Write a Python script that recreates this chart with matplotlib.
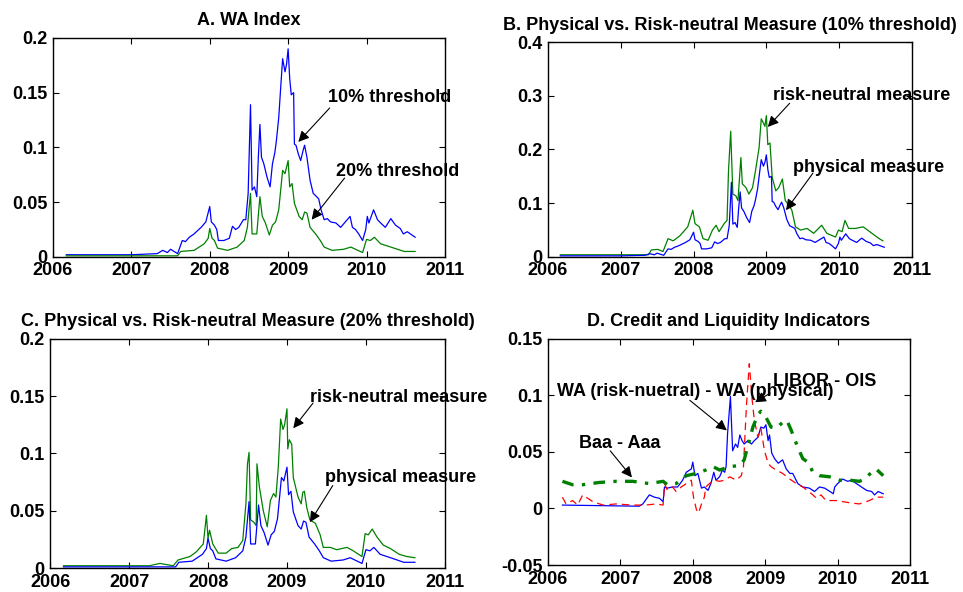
import numpy as np
import matplotlib
matplotlib.use("Agg")
import matplotlib.pyplot as plt
from matplotlib.ticker import FuncFormatter

plt.rcParams['font.family'] = ['Liberation Sans', 'DejaVu Sans']
plt.rcParams['font.weight'] = 'bold'
plt.rcParams['axes.titleweight'] = 'bold'

# --- WA index, physical measure, 10% threshold (blue in A and B) ---
wa10_t = [2006.17, 2007.00, 2007.33, 2007.40, 2007.46, 2007.50, 2007.59, 2007.65,
          2007.69, 2007.74, 2007.80, 2007.89, 2007.95, 2008.00, 2008.02, 2008.06,
          2008.09, 2008.11, 2008.18, 2008.25, 2008.29, 2008.33, 2008.37, 2008.43,
          2008.46, 2008.49, 2008.52, 2008.54, 2008.57, 2008.60, 2008.62, 2008.64,
          2008.66, 2008.69, 2008.73, 2008.77, 2008.80, 2008.83, 2008.85, 2008.88,
          2008.91, 2008.93, 2008.96, 2008.98, 2009.00, 2009.02, 2009.04, 2009.07,
          2009.08, 2009.10, 2009.13, 2009.16, 2009.19, 2009.21, 2009.24, 2009.28,
          2009.32, 2009.35, 2009.39, 2009.42, 2009.46, 2009.50, 2009.54, 2009.61,
          2009.67, 2009.73, 2009.79, 2009.82, 2009.86, 2009.90, 2009.95, 2009.99,
          2010.01, 2010.03, 2010.05, 2010.09, 2010.14, 2010.18, 2010.24, 2010.31,
          2010.37, 2010.43, 2010.47, 2010.52, 2010.56, 2010.62]
wa10_phys = [0.002, 0.002, 0.003, 0.006, 0.004, 0.007, 0.003, 0.015,
             0.014, 0.018, 0.021, 0.027, 0.032, 0.046, 0.032, 0.029,
             0.025, 0.015, 0.015, 0.017, 0.028, 0.025, 0.027, 0.034,
             0.034, 0.058, 0.139, 0.061, 0.064, 0.055, 0.091, 0.121,
             0.091, 0.085, 0.073, 0.064, 0.085, 0.095, 0.106, 0.127,
             0.160, 0.181, 0.169, 0.176, 0.190, 0.163, 0.148, 0.150,
             0.103, 0.102, 0.094, 0.088, 0.097, 0.102, 0.091, 0.070,
             0.058, 0.056, 0.053, 0.043, 0.034, 0.035, 0.032, 0.031,
             0.027, 0.032, 0.037, 0.027, 0.025, 0.021, 0.015, 0.025,
             0.037, 0.031, 0.035, 0.043, 0.034, 0.031, 0.027, 0.035,
             0.029, 0.026, 0.021, 0.023, 0.021, 0.018]

# --- WA index, physical measure, 20% threshold (green in A, blue in C) ---
wa20_t = [2006.17, 2007.25, 2007.59, 2007.63, 2007.80, 2007.93, 2007.98, 2008.00,
          2008.03, 2008.06, 2008.10, 2008.23, 2008.35, 2008.44, 2008.48, 2008.52,
          2008.54, 2008.60, 2008.64, 2008.67, 2008.71, 2008.76, 2008.80, 2008.84,
          2008.88, 2008.93, 2008.96, 2009.00, 2009.02, 2009.05, 2009.08, 2009.14,
          2009.18, 2009.21, 2009.24, 2009.28, 2009.35, 2009.41, 2009.46, 2009.56,
          2009.71, 2009.80, 2009.95, 2010.00, 2010.05, 2010.10, 2010.18, 2010.31,
          2010.48, 2010.62]
wa20_phys = [0.001, 0.001, 0.001, 0.005, 0.006, 0.012, 0.017, 0.026,
             0.017, 0.015, 0.008, 0.006, 0.009, 0.015, 0.027, 0.058,
             0.021, 0.021, 0.055, 0.037, 0.031, 0.020, 0.029, 0.032,
             0.043, 0.079, 0.076, 0.088, 0.064, 0.067, 0.049, 0.037,
             0.034, 0.041, 0.040, 0.027, 0.021, 0.015, 0.009, 0.006,
             0.007, 0.009, 0.004, 0.016, 0.015, 0.018, 0.012, 0.009,
             0.005, 0.005]

# --- risk-neutral measure, 10% threshold (green in B) ---
rn10_t = [2006.17, 2007.29, 2007.38, 2007.42, 2007.51, 2007.58, 2007.65, 2007.72,
          2007.81, 2007.92, 2007.99, 2008.02, 2008.08, 2008.13, 2008.20, 2008.26,
          2008.31, 2008.35, 2008.42, 2008.46, 2008.48, 2008.51, 2008.54, 2008.58,
          2008.61, 2008.65, 2008.67, 2008.72, 2008.76, 2008.81, 2008.85, 2008.90,
          2008.93, 2008.96, 2008.98, 2009.00, 2009.02, 2009.05, 2009.08, 2009.13,
          2009.17, 2009.22, 2009.26, 2009.31, 2009.35, 2009.40, 2009.47, 2009.56,
          2009.65, 2009.76, 2009.83, 2009.95, 2009.99, 2010.04, 2010.08, 2010.13,
          2010.22, 2010.33, 2010.42, 2010.49, 2010.55, 2010.60]
rn10 = [0.004, 0.004, 0.004, 0.013, 0.014, 0.010, 0.034, 0.030,
        0.039, 0.056, 0.087, 0.062, 0.056, 0.034, 0.031, 0.050,
        0.059, 0.047, 0.062, 0.068, 0.160, 0.234, 0.117, 0.114,
        0.105, 0.185, 0.136, 0.129, 0.117, 0.129, 0.160, 0.203,
        0.257, 0.249, 0.243, 0.263, 0.209, 0.212, 0.148, 0.123,
        0.129, 0.145, 0.105, 0.096, 0.087, 0.056, 0.050, 0.053,
        0.044, 0.059, 0.044, 0.037, 0.050, 0.047, 0.068, 0.053,
        0.053, 0.056, 0.047, 0.040, 0.034, 0.030]

# --- risk-neutral measure, 20% threshold (green in C) ---
rn20_t = [2006.17, 2007.26, 2007.39, 2007.56, 2007.62, 2007.77, 2007.85, 2007.94,
          2007.98, 2008.00, 2008.02, 2008.06, 2008.13, 2008.23, 2008.30, 2008.38,
          2008.44, 2008.48, 2008.50, 2008.52, 2008.54, 2008.58, 2008.61, 2008.62,
          2008.65, 2008.70, 2008.75, 2008.79, 2008.83, 2008.86, 2008.89, 2008.92,
          2008.95, 2008.97, 2009.00, 2009.01, 2009.03, 2009.06, 2009.08, 2009.14,
          2009.18, 2009.20, 2009.22, 2009.25, 2009.29, 2009.36, 2009.42, 2009.46,
          2009.55, 2009.63, 2009.76, 2009.84, 2009.95, 2009.99, 2010.03, 2010.08,
          2010.14, 2010.22, 2010.31, 2010.42, 2010.52, 2010.62]
rn20 = [0.002, 0.002, 0.004, 0.002, 0.007, 0.010, 0.014, 0.021,
        0.046, 0.026, 0.033, 0.021, 0.013, 0.013, 0.017, 0.018,
        0.024, 0.056, 0.091, 0.101, 0.042, 0.040, 0.037, 0.091,
        0.071, 0.050, 0.036, 0.059, 0.065, 0.062, 0.088, 0.130,
        0.121, 0.125, 0.139, 0.104, 0.112, 0.108, 0.079, 0.062,
        0.056, 0.066, 0.067, 0.053, 0.042, 0.039, 0.029, 0.018,
        0.018, 0.016, 0.018, 0.015, 0.010, 0.030, 0.029, 0.034,
        0.027, 0.020, 0.017, 0.012, 0.010, 0.009]

# --- panel D: spread, LIBOR-OIS, Baa-Aaa ---
spread_t = [2006.20, 2007.26, 2007.31, 2007.40, 2007.47, 2007.54, 2007.59, 2007.61,
            2007.65, 2007.72, 2007.79, 2007.86, 2007.91, 2007.98, 2008.00, 2008.03,
            2008.07, 2008.12, 2008.16, 2008.21, 2008.25, 2008.29, 2008.32, 2008.37,
            2008.41, 2008.44, 2008.46, 2008.48, 2008.52, 2008.55, 2008.59, 2008.62,
            2008.65, 2008.68, 2008.71, 2008.76, 2008.81, 2008.85, 2008.90, 2008.94,
            2008.98, 2009.01, 2009.04, 2009.06, 2009.09, 2009.13, 2009.18, 2009.24,
            2009.29, 2009.34, 2009.38, 2009.45, 2009.52, 2009.61, 2009.68, 2009.75,
            2009.82, 2009.87, 2009.94, 2009.96, 2010.00, 2010.07, 2010.14, 2010.19,
            2010.26, 2010.33, 2010.40, 2010.47, 2010.51, 2010.56, 2010.63]
wa_spread = [0.003, 0.002, 0.004, 0.012, 0.010, 0.009, 0.006, 0.019,
             0.018, 0.019, 0.019, 0.025, 0.032, 0.035, 0.041, 0.029,
             0.031, 0.018, 0.019, 0.016, 0.022, 0.032, 0.025, 0.028,
             0.034, 0.032, 0.037, 0.066, 0.099, 0.051, 0.057, 0.054,
             0.065, 0.060, 0.057, 0.060, 0.057, 0.060, 0.063, 0.072,
             0.071, 0.074, 0.060, 0.065, 0.049, 0.044, 0.040, 0.043,
             0.035, 0.031, 0.031, 0.022, 0.019, 0.018, 0.015, 0.019,
             0.018, 0.016, 0.013, 0.019, 0.022, 0.026, 0.024, 0.025,
             0.022, 0.019, 0.016, 0.015, 0.012, 0.015, 0.013]

libor_t = [2006.20, 2006.25, 2006.34, 2006.41, 2006.48, 2006.62, 2006.76, 2006.94,
           2007.17, 2007.35, 2007.49, 2007.59, 2007.61, 2007.65, 2007.72, 2007.77,
           2007.84, 2007.91, 2007.98, 2008.01, 2008.05, 2008.08, 2008.12, 2008.16,
           2008.18, 2008.23, 2008.30, 2008.37, 2008.44, 2008.51, 2008.60, 2008.67,
           2008.70, 2008.74, 2008.78, 2008.82, 2008.85, 2008.90, 2008.94, 2008.99,
           2009.04, 2009.08, 2009.15, 2009.24, 2009.34, 2009.43, 2009.52, 2009.64,
           2009.71, 2009.77, 2009.84, 2009.98, 2010.17, 2010.30, 2010.44, 2010.53,
           2010.63]
libor_ois = [0.010, 0.004, 0.007, 0.003, 0.012, 0.006, 0.003, 0.004,
             0.003, 0.003, 0.004, 0.003, 0.022, 0.016, 0.019, 0.015,
             0.019, 0.022, 0.025, 0.010, -0.001, -0.004, 0.004, 0.010,
             0.019, 0.022, 0.025, 0.024, 0.025, 0.028, 0.025, 0.029,
             0.037, 0.090, 0.128, 0.096, 0.078, 0.063, 0.071, 0.051,
             0.040, 0.037, 0.034, 0.031, 0.026, 0.022, 0.019, 0.013,
             0.009, 0.012, 0.007, 0.007, 0.005, 0.004, 0.007, 0.010,
             0.010]

baa_t = [2006.20, 2006.34, 2006.48, 2006.71, 2006.94, 2007.17, 2007.40, 2007.59,
         2007.65, 2007.77, 2007.91, 2008.05, 2008.18, 2008.28, 2008.37, 2008.51,
         2008.65, 2008.71, 2008.78, 2008.83, 2008.90, 2008.94, 2009.00, 2009.08,
         2009.15, 2009.24, 2009.30, 2009.36, 2009.45, 2009.52, 2009.59, 2009.66,
         2009.75, 2009.89, 2010.03, 2010.17, 2010.30, 2010.37, 2010.47, 2010.53,
         2010.58, 2010.63]
baa_aaa = [0.024, 0.021, 0.021, 0.023, 0.024, 0.024, 0.022, 0.024,
           0.021, 0.022, 0.029, 0.031, 0.034, 0.037, 0.034, 0.037,
           0.038, 0.043, 0.060, 0.072, 0.083, 0.086, 0.082, 0.072,
           0.071, 0.076, 0.078, 0.069, 0.054, 0.044, 0.041, 0.032,
           0.029, 0.028, 0.025, 0.025, 0.024, 0.026, 0.032, 0.035,
           0.032, 0.029]

years = [2006, 2007, 2008, 2009, 2010, 2011]

BLUE = (0, 0, 1)
GREEN = (0, 0.5, 0)
RED = (1, 0, 0)
FS = 13


def style_axes(ax, title, ylim, yticks):
    """MATLAB-like boxed axes"""
    ax.set_xlim(2006, 2011)
    ax.set_xticks(years)
    ax.set_ylim(*ylim)
    ax.set_yticks(yticks)
    ax.yaxis.set_major_formatter(FuncFormatter(lambda v, p: '%g' % round(v, 4)))
    ax.tick_params(direction='in', top=True, right=True, length=4, width=0.8,
                   labelsize=FS, pad=4)
    for s in ax.spines.values():
        s.set_linewidth(1.0)
    ax.set_title(title, fontsize=FS, fontweight='bold', pad=9)


def note(ax, label, txt_xy, tail, head):
    # label text plus a separate arrow, like the MATLAB annotations
    ax.text(txt_xy[0], txt_xy[1], label, fontsize=FS, fontweight='bold',
            va='center', ha='left', clip_on=False)
    ax.annotate('', xy=head, xytext=tail,
                arrowprops=dict(arrowstyle='-|>', color='black', lw=0.8,
                                mutation_scale=16, shrinkA=0, shrinkB=0))


fig = plt.figure(figsize=(9.63, 5.92), dpi=100)

# A. WA Index
axA = fig.add_axes([0.055, 0.566, 0.407, 0.370])
axA.plot(wa10_t, wa10_phys, color=BLUE, lw=0.9)
axA.plot(wa20_t, wa20_phys, color=GREEN, lw=0.9)
style_axes(axA, 'A. WA Index', (0, 0.2), [0, 0.05, 0.1, 0.15, 0.2])
note(axA, '10% threshold', (2009.51, 0.146), (2009.53, 0.136), (2009.13, 0.105))
note(axA, '20% threshold', (2009.61, 0.078), (2009.72, 0.072), (2009.30, 0.034))

# B. 10% threshold
axB = fig.add_axes([0.569, 0.566, 0.378, 0.363])
axB.plot(rn10_t, rn10, color=GREEN, lw=0.9)
axB.plot(wa10_t, wa10_phys, color=BLUE, lw=0.9)
style_axes(axB, 'B. Physical vs. Risk-neutral Measure (10% threshold)',
           (0, 0.4), [0, 0.1, 0.2, 0.3, 0.4])
note(axB, 'risk-neutral measure', (2009.09, 0.301), (2009.32, 0.286), (2009.02, 0.242))
note(axB, 'physical measure', (2009.37, 0.167), (2009.64, 0.156), (2009.27, 0.087))

# C. 20% threshold
axC = fig.add_axes([0.052, 0.0405, 0.410, 0.387])
axC.plot(rn20_t, rn20, color=GREEN, lw=0.9)
axC.plot(wa20_t, wa20_phys, color=BLUE, lw=0.9)
style_axes(axC, 'C. Physical vs. Risk-neutral Measure (20% threshold)',
           (0, 0.2), [0, 0.05, 0.1, 0.15, 0.2])
note(axC, 'risk-neutral measure', (2009.29, 0.149), (2009.33, 0.144), (2009.08, 0.122))
note(axC, 'physical measure', (2009.48, 0.079), (2009.58, 0.072), (2009.29, 0.040))

# D. credit and liquidity
axD = fig.add_axes([0.569, 0.0456, 0.376, 0.382])
axD.plot(spread_t, wa_spread, color=BLUE, lw=0.9)
axD.plot(libor_t, libor_ois, color=RED, lw=0.9, ls=(0, (6, 4)))
axD.plot(baa_t, baa_aaa, color=GREEN, lw=2.4, ls=(0, (3.5, 2.5, 1, 2.5)))
style_axes(axD, 'D. Credit and Liquidity Indicators', (-0.05, 0.15),
           [-0.05, 0, 0.05, 0.1, 0.15])
note(axD, 'LIBOR - OIS', (2009.11, 0.112), (2009.07, 0.102), (2008.86, 0.094))
note(axD, 'WA (risk-nuetral) - WA (physical)', (2006.12, 0.1035),
     (2007.96, 0.0956), (2008.47, 0.069))
note(axD, 'Baa - Aaa', (2006.43, 0.0575), (2006.86, 0.051), (2007.16, 0.0275))

fig.savefig('out.png', dpi=100)
